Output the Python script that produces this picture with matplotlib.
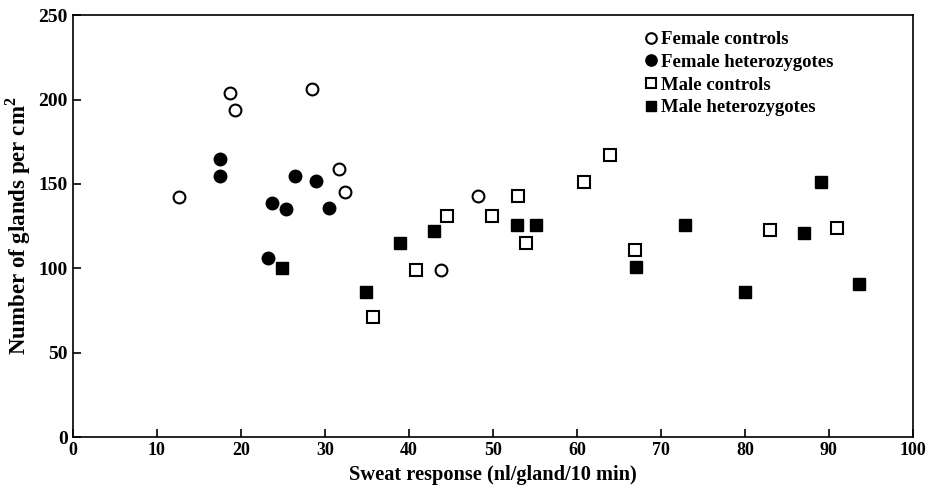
import matplotlib
matplotlib.use('Agg')
import matplotlib.pyplot as plt

plt.rcParams['font.family'] = ['Liberation Serif', 'DejaVu Serif']
plt.rcParams['font.weight'] = 'bold'
plt.rcParams['mathtext.fontset'] = 'custom'
plt.rcParams['mathtext.bf'] = 'Liberation Serif:bold'
plt.rcParams['mathtext.rm'] = 'Liberation Serif:bold'

# female controls
fc_x = [12.6, 18.7, 19.3, 28.5, 31.7, 32.4, 43.8, 48.2]
fc_y = [142, 204, 194, 206, 159, 145, 99, 143]
# female heterozygotes
fh_x = [17.5, 17.5, 23.7, 25.4, 26.4, 28.9, 30.5, 23.2]
fh_y = [165, 155, 139, 135, 155, 152, 136, 106]
# male controls
mc_x = [35.8, 40.9, 44.5, 49.9, 53.0, 53.9, 60.9, 64.0, 66.9, 83.0, 91.0]
mc_y = [71, 99, 131, 131, 143, 115, 151, 167, 111, 123, 124]
# male heterozygotes
mh_x = [24.9, 34.9, 38.9, 43.0, 52.9, 55.1, 67.0, 72.9, 80.0, 87.0, 89.0, 93.6]
mh_y = [100, 86, 115, 122, 126, 126, 101, 126, 86, 121, 151, 91]

fig = plt.figure(figsize=(9.28, 4.87), dpi=100)
ax = fig.add_axes([0.0783, 0.102, 0.9055, 0.867])

ax.plot(fc_x, fc_y, 'o', ms=8.5, mfc='white', mec='black', mew=1.5, ls='none', label='Female controls')
ax.plot(fh_x, fh_y, 'o', ms=9, mfc='black', mec='black', ls='none', label='Female heterozygotes')
ax.plot(mc_x, mc_y, 's', ms=8, mfc='white', mec='black', mew=1.5, ls='none', label='Male controls')
ax.plot(mh_x, mh_y, 's', ms=8.5, mfc='black', mec='black', ls='none', label='Male heterozygotes')

ax.set_xlim(0, 100)
ax.set_ylim(0, 250)
ax.set_xticks(range(0, 101, 10))
ax.set_yticks(range(0, 251, 50))
ax.tick_params(direction='in', length=6, width=1.2, top=False, right=False)
ax.tick_params(axis='x', labelsize=13)
ax.tick_params(axis='y', labelsize=14)
for s in ax.spines.values():
    s.set_linewidth(1.2)

ax.set_xlabel('Sweat response (nl/gland/10 min)', fontsize=14.7, fontweight='bold', labelpad=4)
ax.set_ylabel(r'Number of glands per cm$^{\mathbf{2}}$', fontsize=16.5, fontweight='bold', labelpad=4)

ax.legend(loc='upper left', bbox_to_anchor=(0.668, 0.98), frameon=False, fontsize=13.5,
          handletextpad=0.05, handlelength=1.0, labelspacing=0.3, borderaxespad=0,
          markerscale=0.9)

fig.savefig('out.png', dpi=100)
